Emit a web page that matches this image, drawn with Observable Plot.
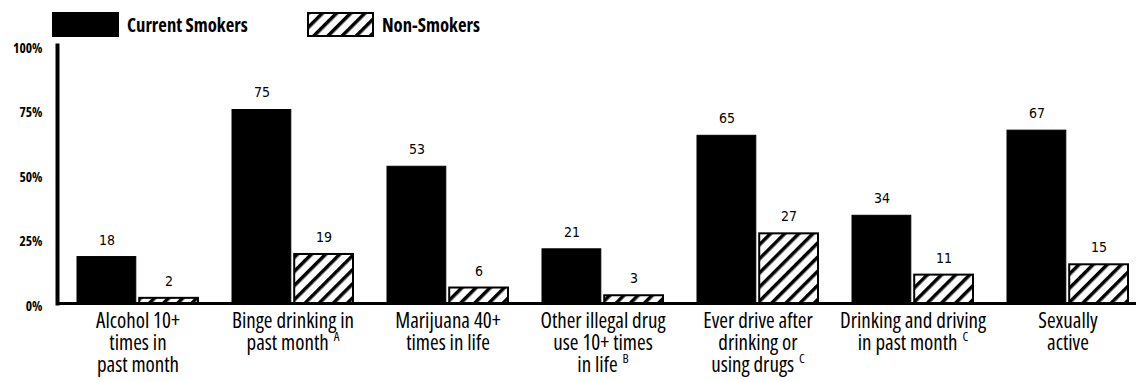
<!DOCTYPE html>
<html>
<head>
<meta charset="utf-8">
<script src="https://cdn.jsdelivr.net/npm/d3@7"></script>
<script src="https://cdn.jsdelivr.net/npm/@observablehq/plot@0.6"></script>
<style>
  body { margin: 0; background: #fff; }
  #legend { position: relative; width: 1136px; height: 40px; font-family: "Open Sans", sans-serif; font-stretch: condensed; }
  #legend .sw { position: absolute; top: 12px; }
  #legend .lab { position: absolute; top: 12px; font-size: 18.7px; font-weight: 700; line-height: 25px; color: #000; }
</style>
</head>
<body>
<div id="legend">
  <svg class="sw" style="left:52px" width="67" height="25"><rect width="67" height="25" fill="#000"/></svg>
  <span class="lab" style="left:127px">Current Smokers</span>
  <svg class="sw" style="left:307px" width="67" height="25">
    <defs>
      <pattern id="hatch-legend" patternUnits="userSpaceOnUse" width="10" height="10" patternTransform="rotate(45)">
        <rect width="10" height="10" fill="#fff"/><rect width="3.5" height="10" fill="#000"/>
      </pattern>
    </defs>
    <rect x="1" y="1" width="65" height="23" fill="url(#hatch-legend)" stroke="#000" stroke-width="2"/>
  </svg>
  <span class="lab" style="left:382px">Non-Smokers</span>
</div>
<div id="chart"></div>
<script>
// Risk behaviours among current smokers and non-smokers (percent)
const categories = [
  "Alcohol 10+\ntimes in\npast month",
  "Binge drinking in\npast month",
  "Marijuana 40+\ntimes in life",
  "Other illegal drug\nuse 10+ times\nin life",
  "Ever drive after\ndrinking or\nusing drugs",
  "Drinking and driving\nin past month",
  "Sexually\nactive"
];
const footnotes = ["", "A", "", "B", "C", "C", ""];
const smokers = [18, 75, 53, 21, 65, 34, 67];
const nonSmokers = [2, 19, 6, 3, 27, 11, 15];
const yTicks = [0, 25, 50, 75, 100];

const width = 1136, height = 341;
const marginLeft = 57, marginRight = 0, marginTop = 5, marginBottom = 78;
const xOpts = {type: "band", domain: categories, range: [marginLeft, width - marginRight],
  paddingInner: 0.22, paddingOuter: 0.09, align: 0.71};
const bw = Plot.scale({x: xOpts}).bandwidth;
const gap = 3.5;
const half = bw / 2 + gap / 2;

const rows = categories.map((c, i) => ({category: c, smokers: smokers[i], nonSmokers: nonSmokers[i], note: footnotes[i]}));

const font = '"Open Sans", sans-serif';

const defs = () => {
  const d = d3.create("svg:defs");
  const p = d.append("pattern").attr("id", "hatch").attr("patternUnits", "userSpaceOnUse")
    .attr("width", 10).attr("height", 10).attr("patternTransform", "rotate(45)");
  p.append("rect").attr("width", 10).attr("height", 10).attr("fill", "#fff");
  p.append("rect").attr("width", 3.5).attr("height", 10).attr("fill", "#000");
  return d.node();
};

const chart = Plot.plot({
  width, height, marginLeft, marginRight, marginTop, marginBottom,
  style: {fontFamily: font, fontStretch: "condensed", color: "#000", background: "#fff"},
  x: {...xOpts, axis: null},
  y: {domain: [0, 100], axis: null},
  marks: [
    defs,
    Plot.barY(rows, {x: "category", y: "smokers", fill: "#000", stroke: "#000", strokeWidth: 1, insetRight: half}),
    Plot.barY(rows, {x: "category", y: "nonSmokers", fill: "url(#hatch)", stroke: "#000", strokeWidth: 2, insetLeft: half}),
    Plot.text(rows, {x: "category", y: "smokers", text: d => String(d.smokers), dx: -(bw / 4 + gap / 4), dy: -17,
      fontSize: 14, fontFamily: "DejaVu Sans", fill: "#000"}),
    Plot.text(rows, {x: "category", y: "nonSmokers", text: d => String(d.nonSmokers), dx: bw / 4 + gap / 4, dy: -17,
      fontSize: 14, fontFamily: "DejaVu Sans", fill: "#000"}),
    Plot.text(rows, {x: "category", text: "category", frameAnchor: "bottom", lineAnchor: "top", dy: 9,
      lineHeight: 1.05, fontSize: 21, fontWeight: 500, fill: "#000"}),
    Plot.axisY({ticks: yTicks, tickSize: 0, tickPadding: 15, dy: 3, tickFormat: d => d + "%",
      fontSize: 13.5, fontWeight: "bold"}),
    Plot.frame({anchor: "left", strokeWidth: 4}),
    Plot.ruleY([0], {strokeWidth: 3})
  ]
});

// superscript footnote markers at the end of the matching category labels
d3.select(chart).selectAll("text").each(function () {
  const lines = this.querySelectorAll("tspan");
  const full = lines.length ? Array.from(lines, t => t.textContent).join("\n") : this.textContent;
  const row = rows.find(r => r.category === full);
  if (!row || !row.note) return;
  const last = lines.length ? lines[lines.length - 1] : this;
  d3.select(last).append("tspan").attr("dx", 5).attr("baseline-shift", "super")
    .attr("font-size", 13).text(row.note);
});

document.getElementById("chart").appendChild(chart);
</script>
</body>
</html>
